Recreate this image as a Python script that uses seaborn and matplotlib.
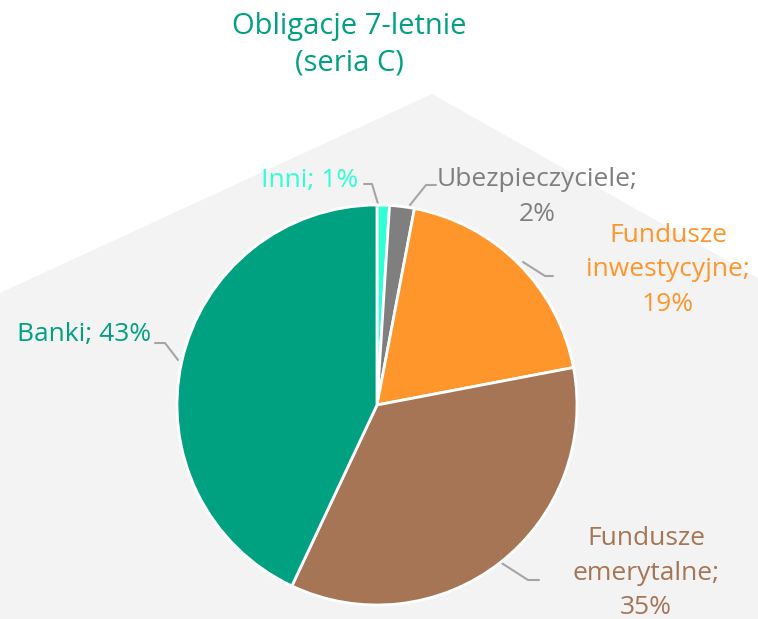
import matplotlib.pyplot as plt
import seaborn as sns
from matplotlib.patches import Polygon

# data
categories = ['Inni', 'Ubezpieczyciele', 'Fundusze inwestycyjne', 'Fundusze emerytalne', 'Banki']
shares = [1, 2, 19, 35, 43]
label_texts = ['Inni; 1%', 'Ubezpieczyciele;\n2%', 'Fundusze\ninwestycyjne;\n19%',
               'Fundusze\nemerytalne;\n35%', 'Banki; 43%']
colors = ['#2EFFD5', '#7F7F7F', '#FF962B', '#A67555', '#00A181']
title = 'Obligacje 7-letnie\n(seria C)'

sns.set_theme(style='white')
plt.rcParams['font.family'] = ['Open Sans', 'DejaVu Sans']

W, H = 758, 619
fig = plt.figure(figsize=(W / 100, H / 100), dpi=100)

# background "house" shape
bg = fig.add_axes([0, 0, 1, 1])
bg.set_xlim(0, W)
bg.set_ylim(H, 0)
bg.axis('off')
bg.add_patch(Polygon([(0, 293), (432, 94), (758, 278), (758, 619), (0, 619)],
                     closed=True, facecolor='#F3F3F3', edgecolor='none'))

bg.text(349, 45, title, ha='center', va='center', fontsize=21, color='#00A181',
        linespacing=1.33)

# pie: centre (377, 405) px, radius 200 px
cx, cy, r = 377, 405, 200
ax = fig.add_axes([(cx - r) / W, (H - cy - r) / H, 2 * r / W, 2 * r / H])
ax.pie(shares, colors=colors, startangle=90, counterclock=False, radius=1,
       wedgeprops=dict(edgecolor='white', linewidth=2))
ax.set_xlim(-1, 1)
ax.set_ylim(-1, 1)
ax.set_aspect('equal')
ax.axis('off')

# labels with leader lines (pixel coords on bg axes)
label_pos = [(310, 180), (537, 197), (668, 270), (646, 573), (84, 334)]
leaders = [
    [(364, 184), (372, 184), (378, 204)],
    [(436, 185), (426, 185), (410, 205)],
    [(553, 276), (545, 276), (523, 262)],
    [(539, 580), (528, 580), (500, 562)],
    [(155, 343), (165, 343), (178, 360)],
]
for txt, pos, col, pts in zip(label_texts, label_pos, colors, leaders):
    bg.text(pos[0], pos[1], txt, ha='center', va='center', fontsize=19,
            color=col, linespacing=1.52)
    xs, ys = zip(*pts)
    bg.plot(xs, ys, color='#A5A5A5', lw=1.5)

fig.savefig('out.png', dpi=100)
